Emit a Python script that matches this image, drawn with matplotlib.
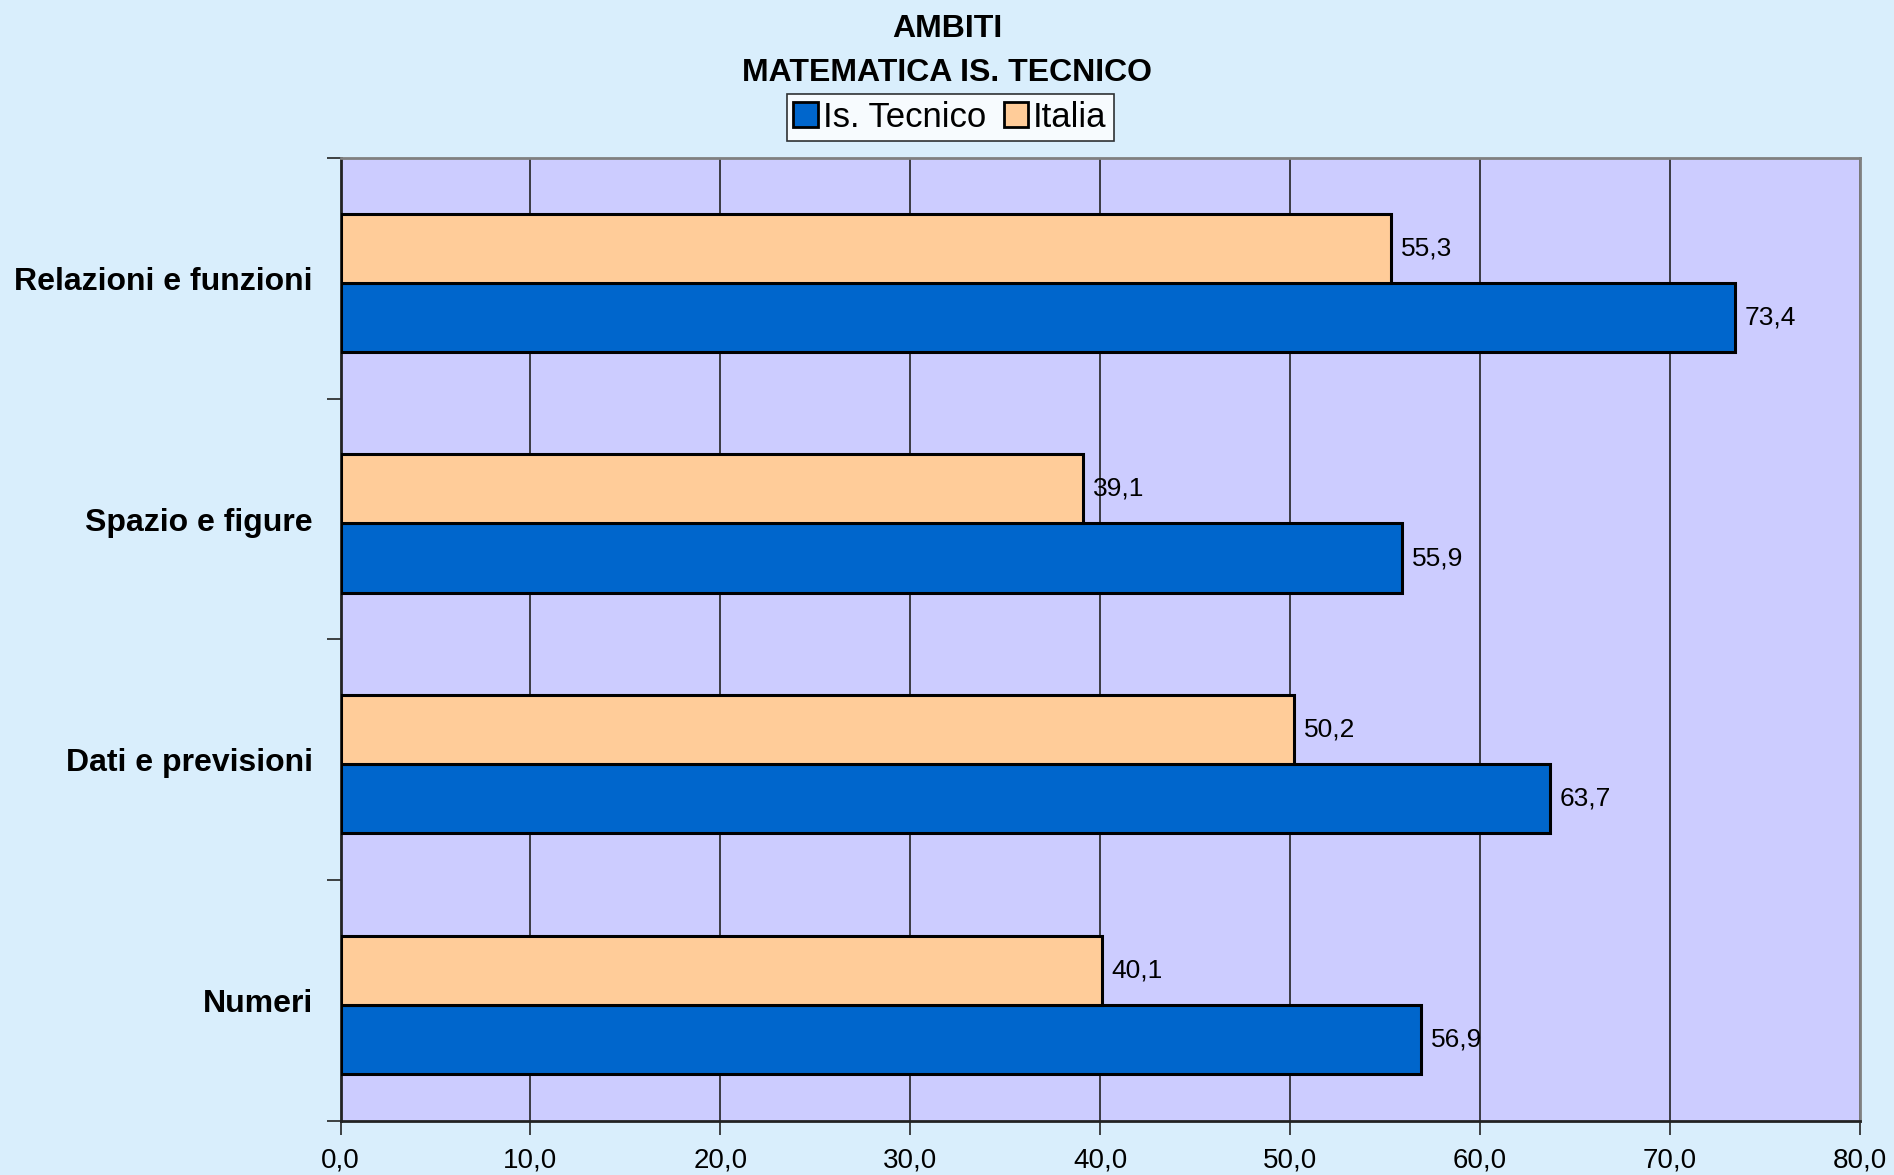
import matplotlib.pyplot as plt
import numpy as np

plt.rcParams['font.family'] = ['Liberation Sans', 'DejaVu Sans']

categorie = ["Numeri", "Dati e previsioni", "Spazio e figure", "Relazioni e funzioni"]
tecnico = [56.9, 63.7, 55.9, 73.4]
italia = [40.1, 50.2, 39.1, 55.3]
serie_nomi = ["Is. Tecnico", "Italia"]
x_ticks = [0, 10, 20, 30, 40, 50, 60, 70, 80]

col_tec = "#0066CC"
col_ita = "#FFCC99"

fig = plt.figure(figsize=(18.94, 11.75), dpi=100, facecolor="#D9EEFC")
ax = fig.add_axes([0.1798, 0.046, 0.8022, 0.8195])
ax.set_facecolor("#CCCCFF")

y = np.arange(len(categorie))
h = 0.287
off = -0.018
b1 = ax.barh(y - h/2 + off, tecnico, height=h, color=col_tec, edgecolor="black", lw=2.2, label=serie_nomi[0], zorder=3)
b2 = ax.barh(y + h/2 + off, italia, height=h, color=col_ita, edgecolor="black", lw=2.2, label=serie_nomi[1], zorder=3)

for bars, vals in [(b1, tecnico), (b2, italia)]:
    for r, v in zip(bars, vals):
        ax.annotate(f"{v:.1f}".replace(".", ","), (v, r.get_y() + r.get_height()/2),
                    xytext=(7, 0), textcoords="offset points", va="center", ha="left",
                    fontsize=19, zorder=4)

ax.set_xlim(0, 80)
ax.set_ylim(-0.5, len(categorie) - 0.5)
ax.set_xticks(x_ticks)
ax.set_xticklabels([f"{t:.1f}".replace(".", ",") for t in x_ticks], fontsize=20)
ax.xaxis.grid(True, color="#222222", lw=1.2, zorder=1)
ax.set_yticks(y)
ax.set_yticklabels(categorie, fontsize=23, fontweight="bold")
ax.set_yticks(np.arange(-0.5, len(categorie)), minor=True)
ax.tick_params(axis="y", which="major", length=0, pad=20)
ax.tick_params(axis="y", which="minor", length=10, width=1.2, color="#222222")
ax.tick_params(axis="x", length=10, width=1.2, color="#222222", pad=9)

for s in ["left", "bottom"]:
    ax.spines[s].set_color("#222222")
    ax.spines[s].set_linewidth(2)
for s in ["top", "right"]:
    ax.spines[s].set_color("#808080")
    ax.spines[s].set_linewidth(2)

fig.text(0.5, 0.975, "AMBITI", ha="center", va="center", fontsize=23, fontweight="bold")
fig.text(0.5, 0.938, "MATEMATICA IS. TECNICO", ha="center", va="center", fontsize=23, fontweight="bold")

leg = fig.legend(handles=[b1, b2], loc="center", bbox_to_anchor=(0.5016, 0.9002), ncol=2,
                 fontsize=25, frameon=True, fancybox=False, edgecolor="black",
                 handlelength=0.7, handleheight=0.7, handletextpad=0.15, columnspacing=0.5,
                 borderpad=0.2, borderaxespad=0)
leg.get_frame().set_linewidth(1.2)
for p in leg.get_patches():
    p.set_linewidth(2)

fig.savefig("out.png", dpi=100, facecolor=fig.get_facecolor())
